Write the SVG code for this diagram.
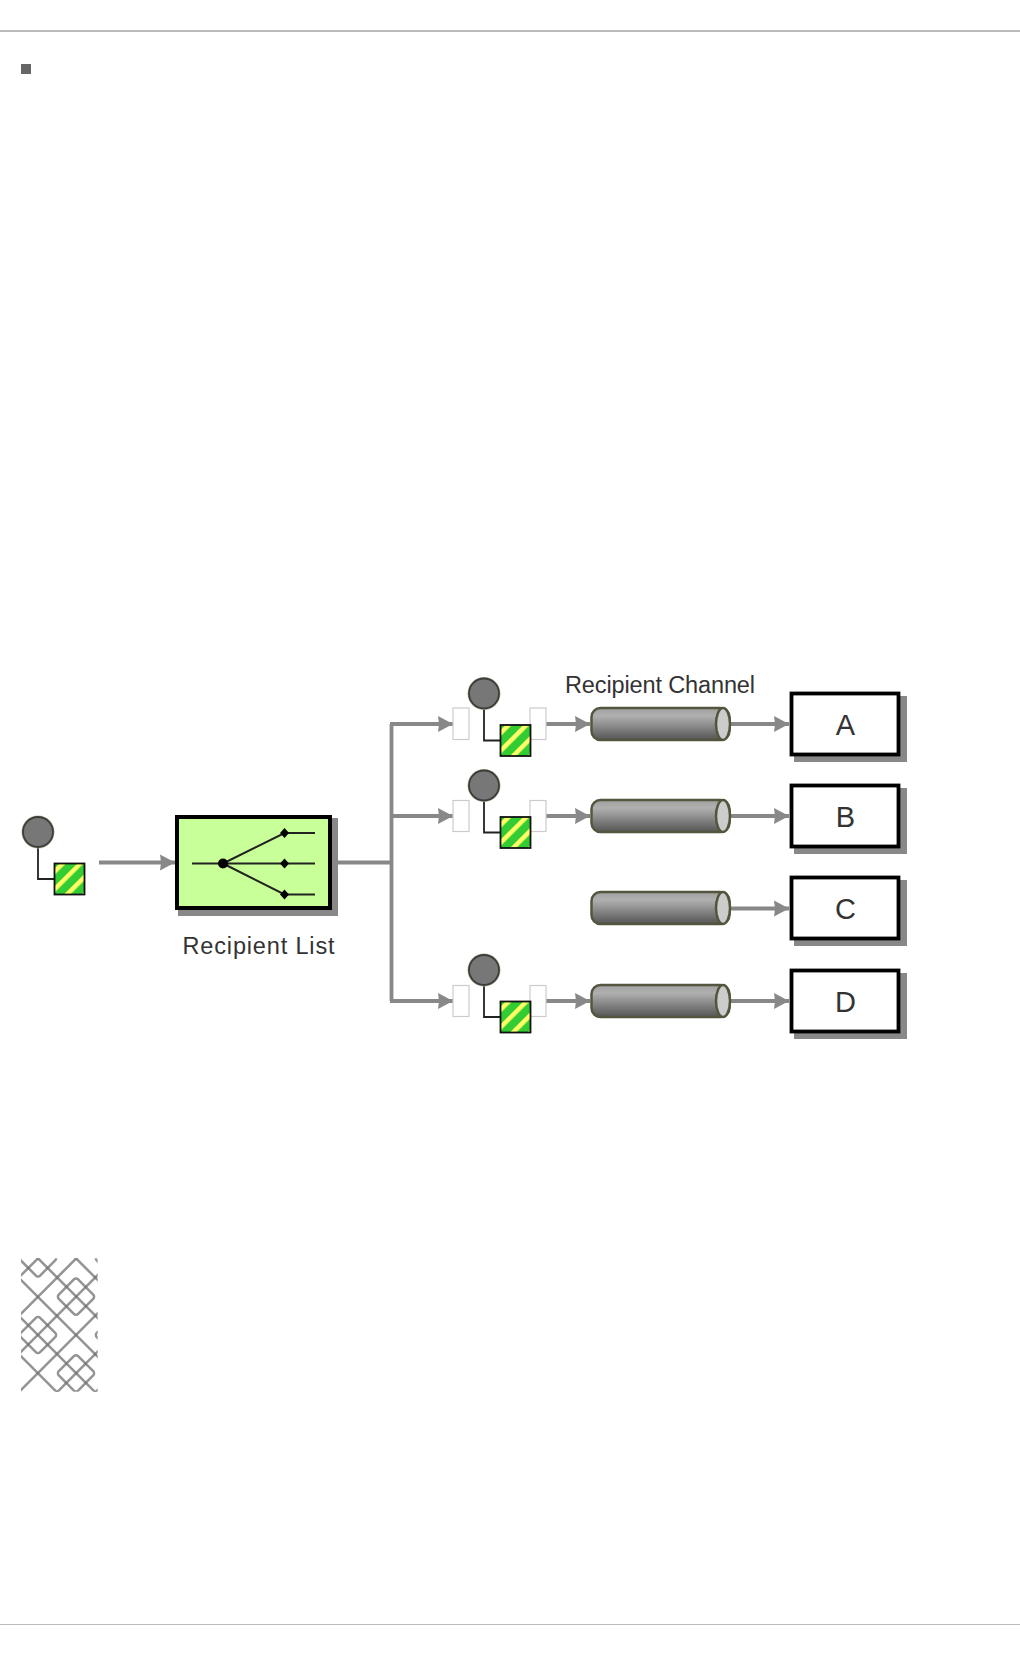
<svg xmlns="http://www.w3.org/2000/svg" xmlns:xlink="http://www.w3.org/1999/xlink" width="1020" height="1656" viewBox="0 0 1020 1656">
<style>
.conn{fill:none;stroke:#888;stroke-width:3.800;stroke-linejoin:miter}
.arrow{marker-end:url(#head)}
.link{fill:none;stroke:#222;stroke-width:1.800}
.lbl{font-family:"Liberation Sans",Arial,sans-serif;fill:#333;font-size:23.5px}
.letter{font-family:"Liberation Sans",Arial,sans-serif;fill:#333;font-size:29px;text-anchor:middle}
.shadow{fill:#888}
.box{fill:#fff;stroke:#000;stroke-width:3.800}
.slot{fill:#fff;stroke:#ccc;stroke-width:1.200}
.tube{fill:url(#metal);stroke:#55553f;stroke-width:2.500}
.cap{fill:#ccc;stroke:#55553f;stroke-width:2.500}
.pt{fill:none;stroke:#707070;stroke-opacity:.75;stroke-width:7.500}
.ic{fill:none;stroke:#222;stroke-width:2}
</style>
<defs>
<linearGradient id="metal" x1="0" y1="0" x2="0" y2="1"><stop offset="0" stop-color="#a0a0a0"/><stop offset=".25" stop-color="#b0b0b0"/><stop offset="1" stop-color="#555"/></linearGradient>
<pattern id="stripes" width="12.500" height="12.500" patternUnits="userSpaceOnUse" patternTransform="rotate(45)"><rect width="12.500" height="12.500" fill="#33cc33"/><rect width="4.500" height="12.500" fill="#ffff66"/></pattern>
<marker id="head" markerUnits="userSpaceOnUse" markerWidth="16" markerHeight="18" refX="15" refY="9" orient="auto"><path d="M0 1L15 9L0 17L1 9Z" fill="#888"/></marker>
<g id="msg">
<path class="link" d="M0 15V47H16"/>
<circle r="16.500" fill="#b9b99a"/>
<circle r="15" fill="#777" stroke="#3c3c3c" stroke-width="1.800"/>
<rect x="16.500" y="31.500" width="30" height="31" fill="url(#stripes)" stroke="#111" stroke-width="1.800"/>
</g>
<clipPath id="logoClip"><rect x="63" y="55" width="230" height="400"/></clipPath>
<rect id="knot" x="-41" y="-41" width="82" height="82" rx="9" transform="rotate(45)" class="pt"/>
</defs>
<rect width="1020" height="1656" fill="#fff"/>
<rect x="0" y="30" width="1020" height="2" fill="#bbb"/>
<rect x="0" y="1624" width="1020" height="1" fill="#bbb"/>
<rect id="bullet" x="21" y="64" width="10" height="10" fill="#666"/>

<g id="connectors">
<path class="conn arrow" d="M99 862.500H175"/>
<path class="conn" d="M338 862.500H391.500"/>
<path class="conn" d="M391.500 724V1001"/>
<path class="conn arrow" d="M390 724H453"/>
<path class="conn arrow" d="M391.500 816H453"/>
<path class="conn arrow" d="M390 1001H453"/>
<path class="conn arrow" d="M546 724H590"/>
<path class="conn arrow" d="M546 816H590"/>
<path class="conn arrow" d="M546 1001H590"/>
<path class="conn arrow" d="M731 724H789"/>
<path class="conn arrow" d="M731 816H789"/>
<path class="conn arrow" d="M731 908.500H789"/>
<path class="conn arrow" d="M731 1001H789"/>
</g>

<g id="source-message"><use xlink:href="#msg" href="#msg" x="38" y="832"/></g>

<g id="recipient-list">
<rect class="shadow" x="178" y="818" width="160" height="98"/>
<rect x="177" y="817" width="153" height="91" fill="#c9ff99" stroke="#000" stroke-width="4"/>
<path class="ic" d="M192 863.500H315M223 863.500L284.500 833H315M223 863.500L284.500 894.500H315"/>
<circle cx="223" cy="863.500" r="5" fill="#000"/>
<path d="M284.500 828l4.500 5-4.500 5-4.500-5zM284.500 858.500l4.500 5-4.500 5-4.500-5zM284.500 889.500l4.500 5-4.500 5-4.500-5z" fill="#000"/>
<text class="lbl" x="182.500" y="954" textLength="152" lengthAdjust="spacing">Recipient List</text>
</g>

<g id="filter-a">
<rect class="slot" x="453" y="708" width="16" height="31.500"/>
<rect class="slot" x="530" y="708" width="16" height="31.500"/>
<use xlink:href="#msg" href="#msg" x="484" y="693.500"/>
</g>
<g id="filter-b">
<rect class="slot" x="453" y="800.500" width="16" height="31"/>
<rect class="slot" x="530" y="800.500" width="16" height="31"/>
<use xlink:href="#msg" href="#msg" x="484" y="785.500"/>
</g>
<g id="filter-d">
<rect class="slot" x="453" y="985.500" width="16" height="31"/>
<rect class="slot" x="530" y="985.500" width="16" height="31"/>
<use xlink:href="#msg" href="#msg" x="484" y="970"/>
</g>

<g id="channel-a">
<rect class="tube" x="591.500" y="708" width="138" height="32" rx="9"/>
<ellipse class="cap" cx="723" cy="724" rx="7" ry="16"/>
<text class="lbl" x="565" y="693" textLength="190" lengthAdjust="spacing">Recipient Channel</text>
</g>
<g id="channel-b">
<rect class="tube" x="591.500" y="800" width="138" height="32" rx="9"/>
<ellipse class="cap" cx="723" cy="816" rx="7" ry="16"/>
</g>
<g id="channel-c">
<rect class="tube" x="591.500" y="892" width="138" height="32" rx="9"/>
<ellipse class="cap" cx="723" cy="908" rx="7" ry="16"/>
</g>
<g id="channel-d">
<rect class="tube" x="591.500" y="985" width="138" height="32" rx="9"/>
<ellipse class="cap" cx="723" cy="1001" rx="7" ry="16"/>
</g>

<g id="node-a">
<rect class="shadow" x="794" y="696" width="113" height="66"/>
<rect class="box" x="791.500" y="693.500" width="107" height="61"/>
<text class="letter" x="845.500" y="734.500">A</text>
</g>
<g id="node-b">
<rect class="shadow" x="794" y="788" width="113" height="66"/>
<rect class="box" x="791.500" y="785.500" width="107" height="61"/>
<text class="letter" x="845.500" y="826.500">B</text>
</g>
<g id="node-c">
<rect class="shadow" x="794" y="880" width="113" height="66"/>
<rect class="box" x="791.500" y="877.500" width="107" height="61"/>
<text class="letter" x="845.500" y="918.500">C</text>
</g>
<g id="node-d">
<rect class="shadow" x="794" y="973" width="113" height="66"/>
<rect class="box" x="791.500" y="970.500" width="107" height="61"/>
<text class="letter" x="845.500" y="1011.500">D</text>
</g>

<g id="logo" transform="translate(0 1240) scale(.33333)">
<g clip-path="url(#logoClip)">
<path class="pt" d="M0 -59L600 541"/>
<path class="pt" d="M0 171L400 571"/>
<path class="pt" d="M169 0L0 169"/>
<path class="pt" d="M398 0L0 398"/>
<path class="pt" d="M628 0L100 528"/>
<path class="pt" d="M173 0L600 427"/>
<path class="pt" d="M0 57L500 557"/>
<path class="pt" d="M0 286L300 586"/>
<path class="pt" d="M284 0L0 284"/>
<path class="pt" d="M513 0L0 513"/>
<path class="pt" d="M743 0L100 643"/>
<use xlink:href="#knot" href="#knot" x="0" y="0" transform="translate(114 55)"/>
<use xlink:href="#knot" href="#knot" x="0" y="0" transform="translate(228 170)"/>
<use xlink:href="#knot" href="#knot" x="0" y="0" transform="translate(114 285)"/>
<use xlink:href="#knot" href="#knot" x="0" y="0" transform="translate(228 400)"/>
<use xlink:href="#knot" href="#knot" x="0" y="0" transform="translate(342 55)"/>
<use xlink:href="#knot" href="#knot" x="0" y="0" transform="translate(342 285)"/>
<use xlink:href="#knot" href="#knot" x="0" y="0" transform="translate(114 515)"/>
</g>
</g>
</svg>
